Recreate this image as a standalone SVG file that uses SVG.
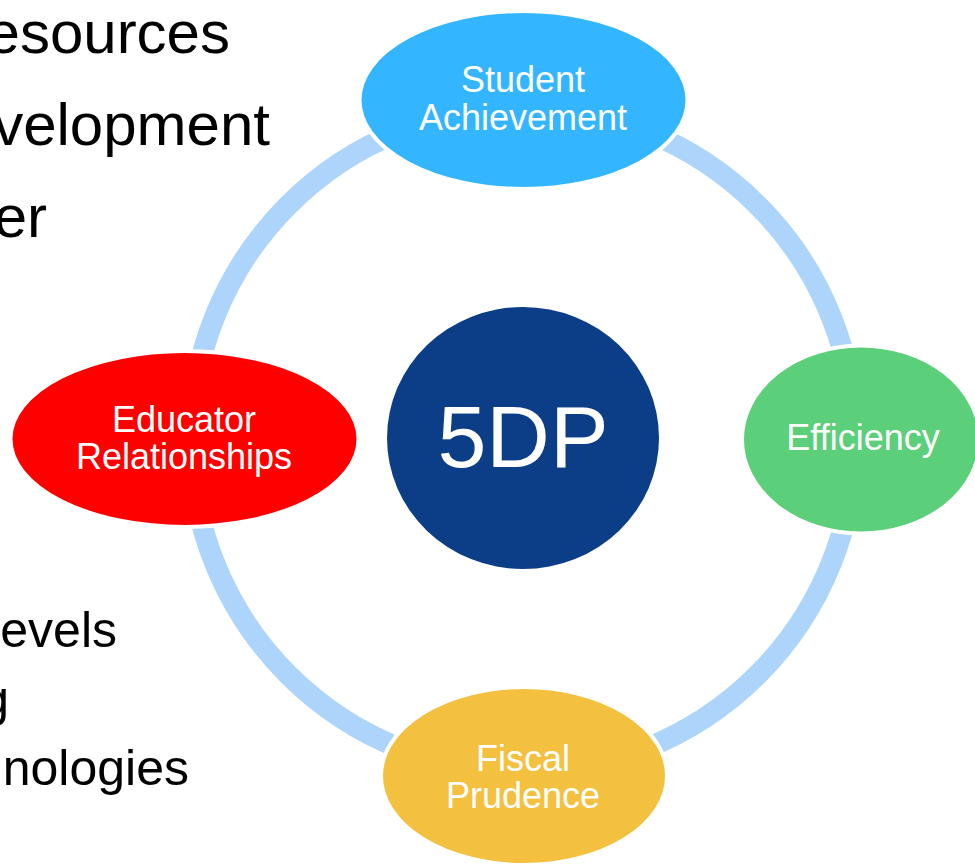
<svg xmlns="http://www.w3.org/2000/svg" width="975" height="864" viewBox="0 0 975 864">
<style>
.bg{font-family:"Liberation Sans",Arial,sans-serif;fill:#000;}
.lbl{font-family:"Liberation Sans",Arial,sans-serif;fill:#fff;text-anchor:middle;font-size:36px;}
.node{stroke:#fff;stroke-width:4;}
.ring{fill:none;stroke:#ADD5FB;stroke-width:21;}
</style>
<rect width="975" height="864" fill="#fff"/>
<g id="background-text" class="bg">
<text x="230" y="53" font-size="60" text-anchor="end">esources</text>
<text x="270" y="145" font-size="60" text-anchor="end">velopment</text>
<text x="47" y="237" font-size="60" text-anchor="end">er</text>
<text x="117" y="647" font-size="50" text-anchor="end">evels</text>
<text x="9" y="716" font-size="50" text-anchor="end">g</text>
<text x="189" y="785" font-size="50" text-anchor="end">nologies</text>
</g>
<g id="connectors">
<path class="ring" d="M523,108 A332,332 0 0 1 855,440"/>
<path class="ring" d="M855,440 A332,332 0 0 1 523,772"/>
<path class="ring" d="M523,772 A332,332 0 0 1 191,440"/>
<path class="ring" d="M191,440 A332,332 0 0 1 523,108"/>
</g>
<g id="center">
<ellipse cx="523" cy="438" rx="136" ry="131" fill="#0B3E87"/>
<text x="523" y="467" font-family="'Liberation Sans',Arial,sans-serif" font-size="88" fill="#fff" text-anchor="middle">5DP</text>
</g>
<g id="student-achievement">
<ellipse class="node" cx="523.5" cy="100" rx="164" ry="89" fill="#33B5FF"/>
<text class="lbl" x="523" y="92">Student</text>
<text class="lbl" x="523" y="130">Achievement</text>
</g>
<g id="efficiency">
<ellipse class="node" cx="861" cy="439.5" rx="119" ry="94" fill="#5CCF7A"/>
<text class="lbl" x="863" y="450">Efficiency</text>
</g>
<g id="fiscal-prudence">
<ellipse class="node" cx="524" cy="776" rx="143" ry="89" fill="#F4C040"/>
<text class="lbl" x="523" y="771">Fiscal</text>
<text class="lbl" x="523" y="808">Prudence</text>
</g>
<g id="educator-relationships">
<ellipse class="node" cx="184.5" cy="439" rx="174" ry="88" fill="#FF0000"/>
<text class="lbl" x="184" y="432">Educator</text>
<text class="lbl" x="184" y="469">Relationships</text>
</g>
</svg>
